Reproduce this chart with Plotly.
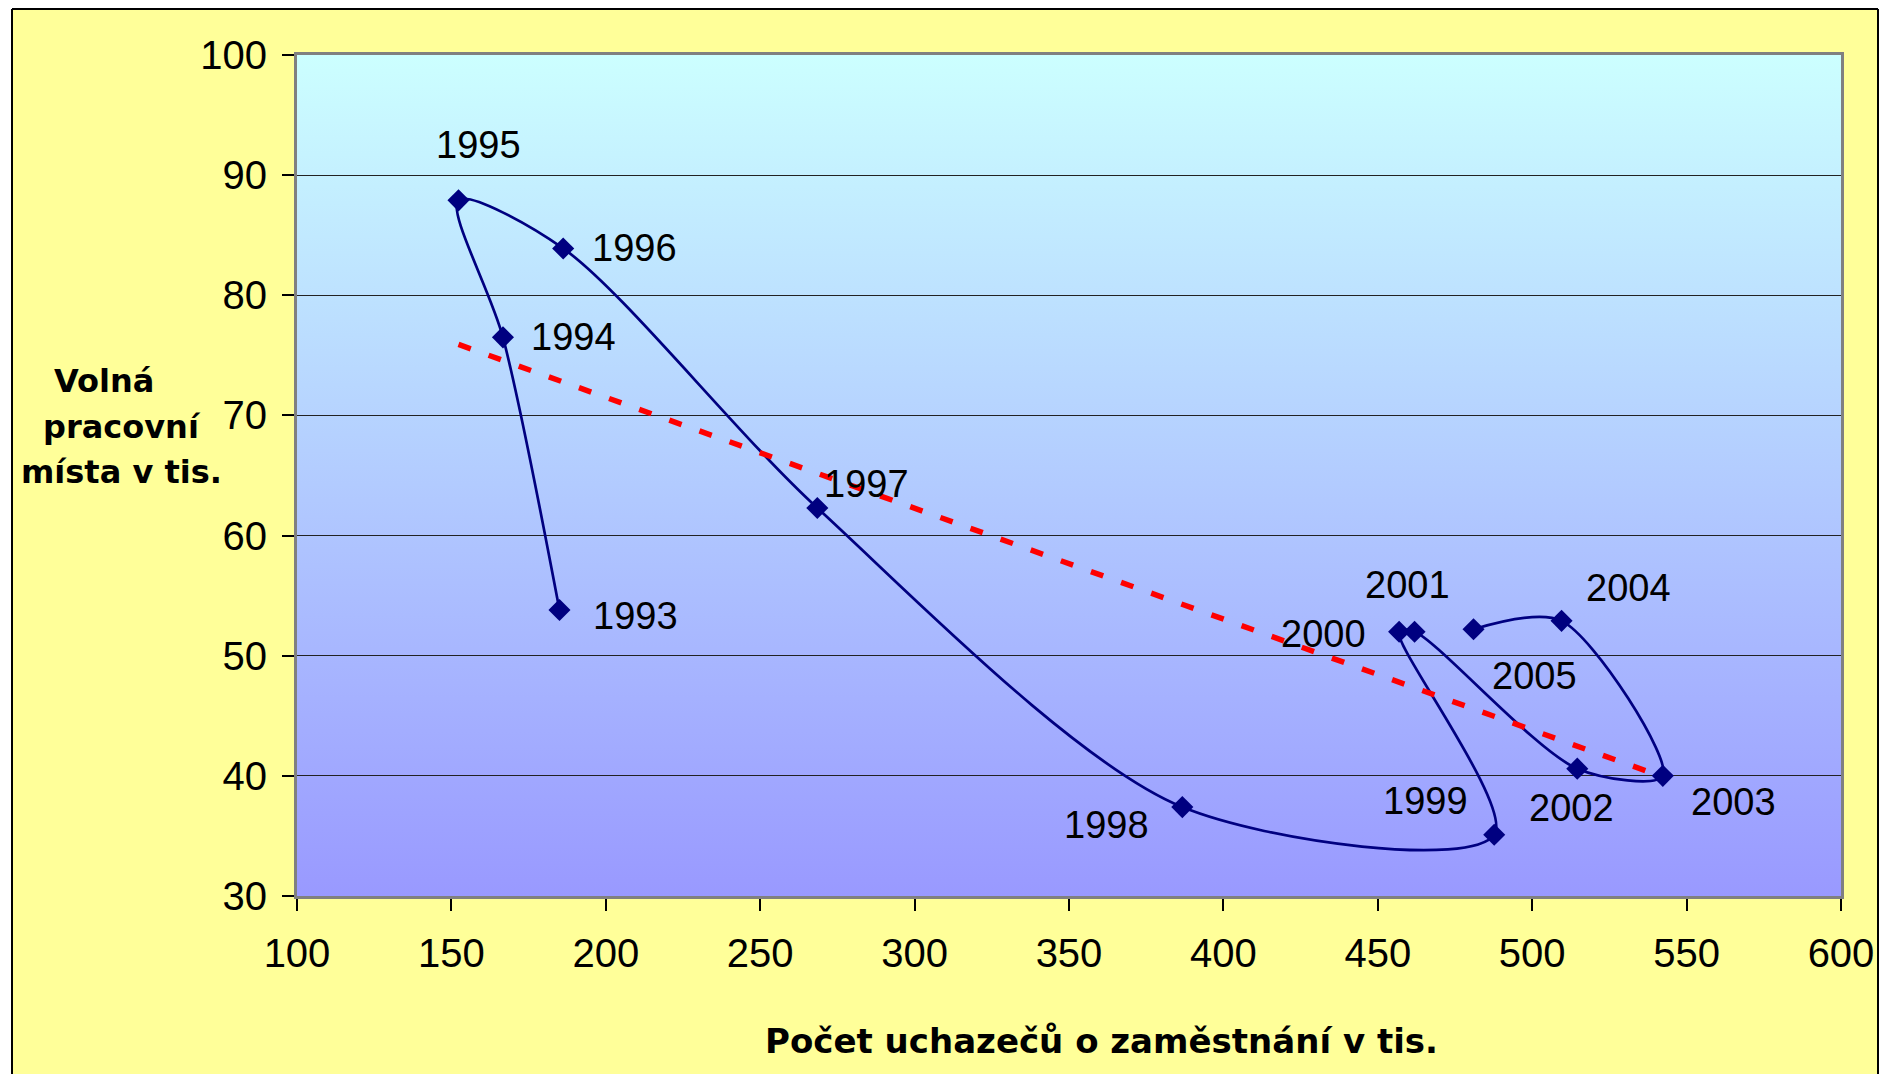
import base64
import numpy as np
import plotly.graph_objects as go

# data (thousands)
years = ["1993", "1994", "1995", "1996", "1997", "1998", "1999",
         "2000", "2001", "2002", "2003", "2004", "2005"]
uchazeci = [185.0, 166.7, 152.3, 186.2, 268.5, 386.7, 487.7,
            456.9, 461.9, 514.6, 542.3, 509.5, 481.0]
volna_mista = [53.8, 76.5, 87.9, 83.9, 62.3, 37.4, 35.1,
               52.0, 52.0, 40.6, 40.0, 52.9, 52.2]

# label offsets in px (dx right, dy down) for each year label
label_offsets = {
    "1993": (76, 6), "1994": (71, 0), "1995": (20, -55), "1996": (71, 0),
    "1997": (49, -24), "1998": (-76, 18), "1999": (-69, -34),
    "2000": (-76, 2), "2001": (-7, -47), "2002": (-6, 39),
    "2003": (71, 26), "2004": (67, -33), "2005": (61, 47),
}

# page has an 8px body margin, so the figure is a bit smaller than the window
OFF = 8
W, H = 1880, 1066
L, R, T, B = 289, 47, 47, 178


def px(x):
    # x given in screen pixels of the 1888x1074 picture
    return (x - OFF - L) / (W - L - R)


def py(y):
    return (H - B - (y - OFF)) / (H - T - B)


NAVY = "#000080"
TXT = "Liberation Sans, Arial, sans-serif"
BOLD = "DejaVu Sans, sans-serif"

fig = go.Figure()

fig.add_trace(go.Scatter(
    x=uchazeci, y=volna_mista, mode="lines+markers",
    line=dict(color=NAVY, width=2.7, shape="spline", smoothing=0.85),
    marker=dict(symbol="diamond", size=17, color=NAVY),
    showlegend=False, hoverinfo="skip",
))

# linear trend line
k, q = np.polyfit(uchazeci, volna_mista, 1)
tx = np.array([min(uchazeci), max(uchazeci)])
fig.add_trace(go.Scatter(
    x=tx, y=k * tx + q, mode="lines",
    line=dict(color="#FF0000", width=5.5, dash="13px,19px"),
    showlegend=False, hoverinfo="skip",
))

for yr, xv, yv in zip(years, uchazeci, volna_mista):
    dx, dy = label_offsets[yr]
    fig.add_annotation(x=xv, y=yv, text=yr, showarrow=False,
                       xshift=dx, yshift=-dy,
                       font=dict(family=TXT, size=38, color="black"))

# gradient plot background
svg = ('<svg xmlns="http://www.w3.org/2000/svg" width="10" height="100" '
       'viewBox="0 0 10 100" preserveAspectRatio="none"><defs>'
       '<linearGradient id="g" x1="0" y1="0" x2="0" y2="1">'
       '<stop offset="0" stop-color="#CCFFFF"/>'
       '<stop offset="1" stop-color="#9999FF"/></linearGradient></defs>'
       '<rect width="10" height="100" fill="url(#g)"/></svg>')
fig.add_layout_image(
    source="data:image/svg+xml;base64," + base64.b64encode(svg.encode()).decode(),
    xref="x", yref="y", x=100, y=100, sizex=500, sizey=70,
    xanchor="left", yanchor="top", sizing="stretch", layer="below",
)

# axis titles
fig.add_annotation(xref="paper", yref="paper", x=px(1101), y=py(1041),
                   text="<b>Počet uchazečů o zaměstnání v tis.</b>",
                   showarrow=False, xanchor="center", yanchor="middle",
                   font=dict(family=BOLD, size=34, color="black"))
for line, cx, cy in [("Volná", 104, 381), ("pracovní", 122, 427),
                     ("místa v tis.", 121, 472)]:
    fig.add_annotation(xref="paper", yref="paper", x=px(cx), y=py(cy),
                       text=f"<b>{line}</b>", showarrow=False,
                       xanchor="center", yanchor="middle",
                       font=dict(family=BOLD, size=32, color="black"))

# slide frame: white outside, black border
white = dict(type="rect", xref="paper", yref="paper", fillcolor="white",
             line=dict(width=0), layer="above")
fig.add_shape(**white, x0=px(-5), x1=px(12), y0=py(1090), y1=py(-5))
fig.add_shape(**white, x0=px(1878), x1=px(1895), y0=py(1090), y1=py(-5))
border = dict(type="line", xref="paper", yref="paper",
              line=dict(color="black", width=2), layer="above")
fig.add_shape(**border, x0=px(12), x1=px(1878), y0=py(9), y1=py(9))
fig.add_shape(**border, x0=px(12), x1=px(12), y0=py(9), y1=py(1090))
fig.add_shape(**border, x0=px(1878), x1=px(1878), y0=py(9), y1=py(1090))

axis_common = dict(
    showline=True, linecolor="#808080", linewidth=3, mirror=True,
    ticks="outside", ticklen=12, tickwidth=2, tickcolor="black",
    tickfont=dict(family=TXT, size=40, color="black"),
    zeroline=False, fixedrange=True,
)
fig.update_xaxes(range=[100, 600], tick0=100, dtick=50, showgrid=False,
                 ticklabelstandoff=8, **axis_common)
fig.update_yaxes(range=[30, 100], tick0=30, dtick=10, showgrid=True,
                 gridcolor="#222222", gridwidth=1,
                 ticklabelstandoff=7, **axis_common)

fig.update_layout(
    width=W, height=H,
    margin=dict(l=L, r=R, t=T, b=B),
    paper_bgcolor="#FFFF99",
    plot_bgcolor="rgba(0,0,0,0)",
    showlegend=False,
)

fig.write_html("out.html")
